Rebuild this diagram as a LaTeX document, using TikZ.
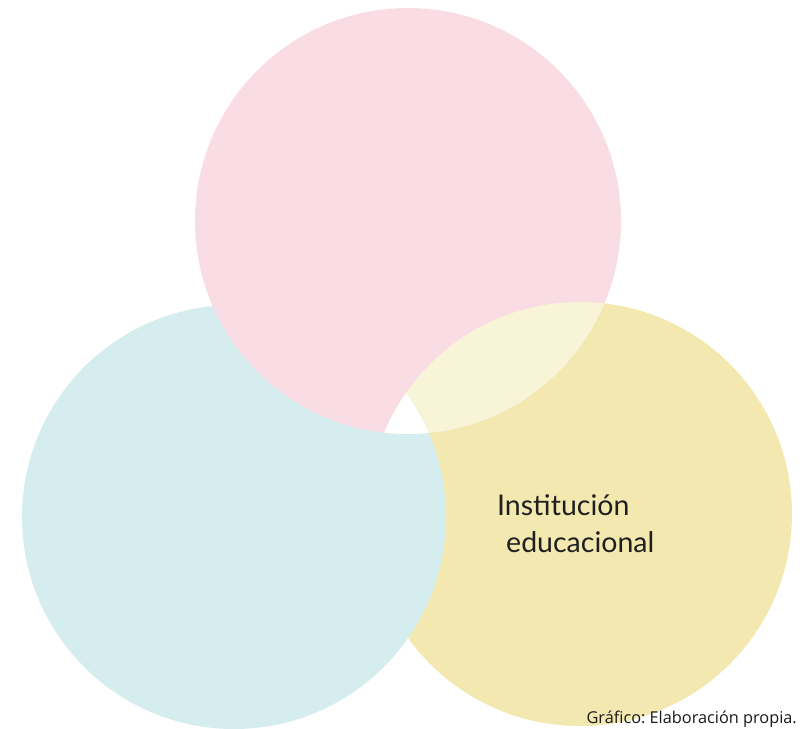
\documentclass[tikz,border=0pt]{standalone}
\usepackage{fontspec}
\setmainfont{Lato}
\newfontfamily\capfont{Open Sans}
\frenchspacing
\definecolor{pinkc}{RGB}{250,221,228}
\definecolor{bluec}{RGB}{213,237,239}
\definecolor{yellowc}{RGB}{243,233,176}
\definecolor{creamc}{RGB}{248,244,216}
\tikzset{
  label text/.style={font=\fontsize{28.5}{37}\selectfont, text=black!88, align=left, inner sep=0pt},
  caption text/.style={font=\capfont\fontsize{16.3}{19}\selectfont, text=black!90, inner sep=0pt}
}
\begin{document}
\begin{tikzpicture}[x=1pt,y=-1pt]
\useasboundingbox (0,0) rectangle (800,728);
\clip (0,0) rectangle (800,728);
% circles
\fill[yellowc] (580,514) circle (212);
\fill[bluec] (234,517) circle (212);
\fill[pinkc] (408,221) circle (213);
% pink/yellow lens and triple overlap
\begin{scope}
  \clip (408,221) circle (213);
  \clip (580,514) circle (212);
  \fill[creamc] (0,0) rectangle (800,728);
  \clip (234,517) circle (212);
  \fill[white] (0,0) rectangle (800,728);
\end{scope}
\node[label text, anchor=base west] (inst) at (497,552) {Institución\\\hspace{9pt}educacional};
\node[caption text, anchor=base east] (cap) at (797,723) {Gráfico: Elaboración propia.};
\end{tikzpicture}
\end{document}
